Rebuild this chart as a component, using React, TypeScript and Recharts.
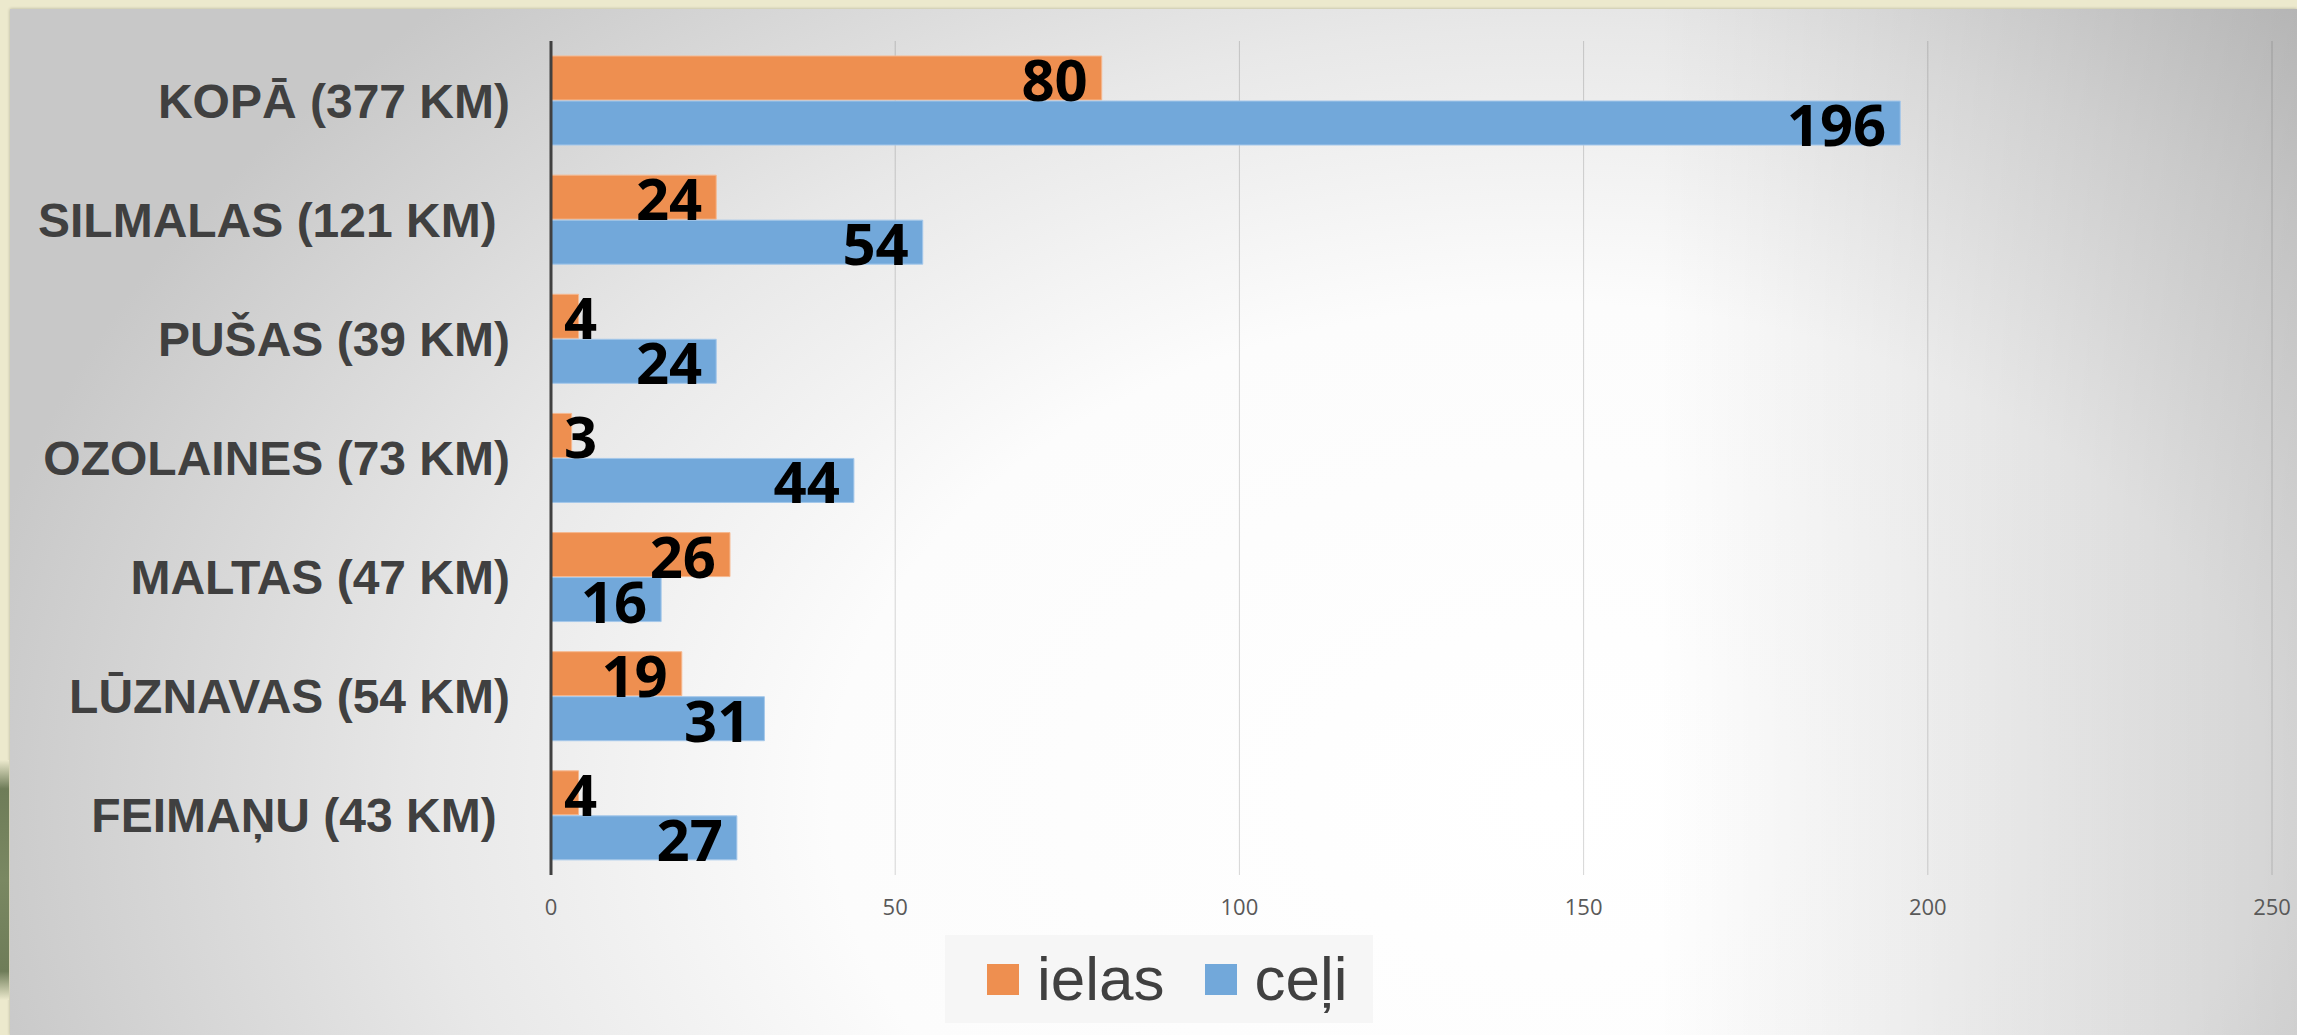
import React from 'react';
import { BarChart, Bar, XAxis, YAxis, CartesianGrid, Legend, LabelList } from 'recharts';

const categories = [
  'KOPĀ (377 KM)',
  'SILMALAS (121 KM) ',
  'PUŠAS (39 KM)',
  'OZOLAINES (73 KM)',
  'MALTAS (47 KM)',
  'LŪZNAVAS (54 KM)',
  'FEIMAŅU (43 KM) ',
];
const ielas = [80, 24, 4, 3, 26, 19, 4];
const celi = [196, 54, 24, 44, 16, 31, 27];
const seriesNames = ['ielas', 'ceļi'];
const xTicks = [0, 50, 100, 150, 200, 250];

const data = categories.map((name, i) => ({ name, ielas: ielas[i], celi: celi[i] }));

const ORANGE = '#EE8F50';
const BLUE = '#72A8DA';

// value label: right-aligned inside the bar end, pushed out to the right when the bar is too short
const ValueLabel = (props: any) => {
  const x = Number(props.x);
  const y = Number(props.y);
  const width = Number(props.width);
  const height = Number(props.height);
  const fs = 58;
  const textW = String(props.value).length * 0.572 * fs - 6;
  const fits = width - 17 - textW >= 16;
  return (
    <text
      x={fits ? x + width - 14 : x + 13}
      y={y + height + 1}
      textAnchor={fits ? 'end' : 'start'}
      fontFamily="'Open Sans', sans-serif"
      fontWeight={700}
      fontSize={fs}
      fill="#000"
    >
      {props.value}
    </text>
  );
};

const CategoryTick = ({ x, y, payload }: any) => (
  <text
    x={x}
    y={y}
    dy="0.355em"
    textAnchor="end"
    xmlSpace="preserve"
    fontFamily="'Liberation Sans', Arial, sans-serif"
    fontWeight={700}
    fontSize={48}
    fill="#404040"
  >
    {payload.value}
  </text>
);

const LegendContent = ({ payload }: any) => {
  const items = [...(payload || [])].sort(
    (a: any, b: any) => seriesNames.indexOf(a.value) - seriesNames.indexOf(b.value)
  );
  return (
    <div
      style={{
        display: 'flex',
        alignItems: 'center',
        background: '#f6f6f6',
        width: 428,
        height: 88,
        boxSizing: 'border-box',
        paddingLeft: 42,
      }}
    >
      {items.map((p: any) => (
        <div key={p.value} style={{ display: 'flex', alignItems: 'center', marginRight: 40 }}>
          <span style={{ display: 'inline-block', width: 32, height: 31, background: p.color, marginRight: 18 }} />
          <span style={{ fontFamily: "'Liberation Sans', Arial, sans-serif", fontSize: 62, color: '#404040', lineHeight: 1 }}>
            {p.value}
          </span>
        </div>
      ))}
    </div>
  );
};

export default function App() {
  return (
    <div
      style={{
        position: 'absolute',
        left: 0,
        top: 0,
        width: 2297,
        height: 1035,
        background: '#ECE9CD',
        overflow: 'hidden',
      }}
    >
      {/* slide panel */}
      <div
        style={{
          position: 'absolute',
          left: 10,
          top: 9,
          right: 0,
          bottom: 0,
          boxShadow: '0 0 3px rgba(0,0,0,0.25)',
          background:
            'linear-gradient(to right, rgba(0,0,0,0) 72%, rgba(0,0,0,0.16) 100%), radial-gradient(ellipse 1600px 1100px at 1540px 790px, #ffffff 0%, #fcfcfc 45%, #e8e8e8 70%, #c8c8c8 100%)',
        }}
      />
      {/* leaf on the left edge */}
      <div
        style={{
          position: 'absolute',
          left: 0,
          top: 760,
          width: 9,
          height: 240,
          background: 'linear-gradient(to bottom, #ECE9CD 0%, #6E7C58 12%, #7a8862 50%, #6E7C58 88%, #ECE9CD 100%)',
        }}
      />
      <div style={{ position: 'absolute', left: 0, top: 0 }}>
        <BarChart
          width={2297}
          height={1035}
          data={data}
          layout="vertical"
          barSize={44}
          barGap={1}
          margin={{ top: 41, right: 25, bottom: 120, left: 0 }}
        >
          <CartesianGrid horizontal={false} stroke="rgba(0,0,0,0.16)" />
          <XAxis
            type="number"
            domain={[0, 250]}
            ticks={xTicks}
            interval={0}
            axisLine={false}
            tickLine={false}
            tickSize={0}
            tickMargin={24}
            height={40}
            tick={{ fill: '#595959', fontSize: 22, fontFamily: "'Open Sans', sans-serif" }}
          />
          <YAxis
            type="category"
            dataKey="name"
            width={551}
            interval={0}
            axisLine={{ stroke: '#404040', strokeWidth: 3 }}
            tickLine={false}
            tickSize={0}
            tickMargin={41}
            tick={<CategoryTick />}
          />
          <Legend
            layout="horizontal"
            verticalAlign="middle"
            align="center"
            wrapperStyle={{ left: 945, top: 935, width: 428, height: 88 }}
            content={<LegendContent />}
          />
          <Bar dataKey="ielas" name={seriesNames[0]} fill={ORANGE} stroke="#F6B88F" strokeWidth={1} isAnimationActive={false}>
            <LabelList dataKey="ielas" content={<ValueLabel />} />
          </Bar>
          <Bar dataKey="celi" name={seriesNames[1]} fill={BLUE} stroke="#A4C7EA" strokeWidth={1} isAnimationActive={false}>
            <LabelList dataKey="celi" content={<ValueLabel />} />
          </Bar>
        </BarChart>
      </div>
    </div>
  );
}
